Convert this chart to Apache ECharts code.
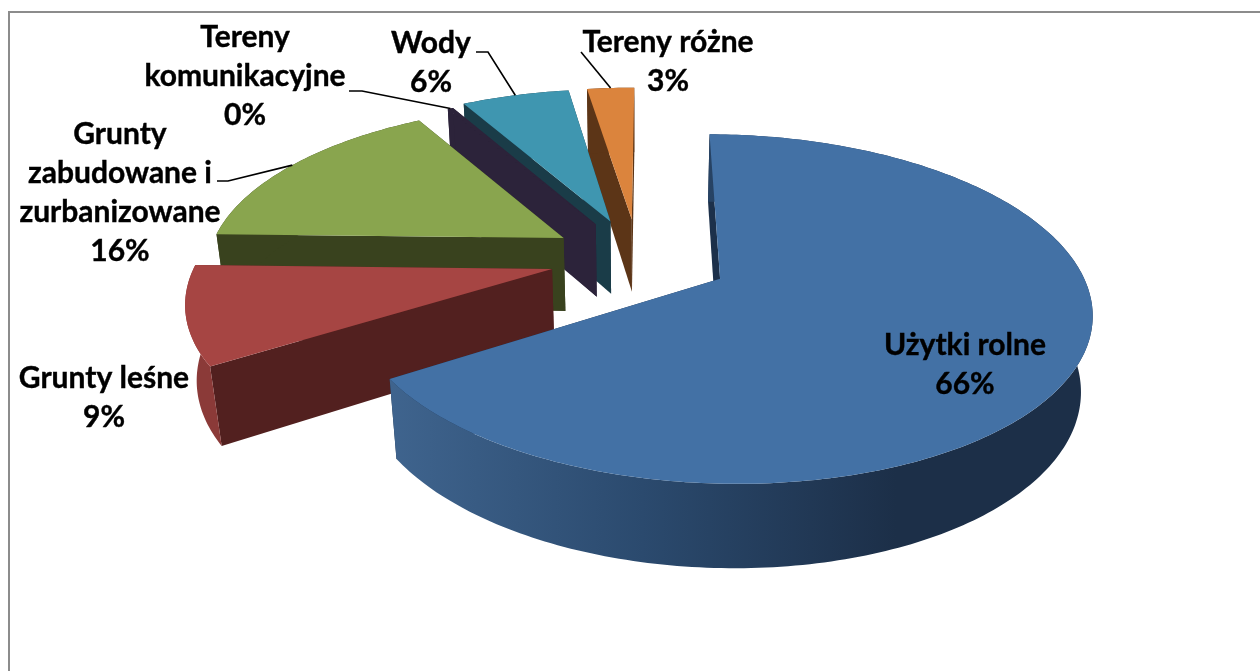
<!DOCTYPE html>
<html>
<head>
<meta charset="utf-8">
<title>Struktura użytkowania gruntów</title>
<script src="https://cdn.jsdelivr.net/npm/echarts@6/dist/echarts.min.js"></script>
<style>
  html, body { margin: 0; padding: 0; background: #fff; }
  #chart { width: 1260px; height: 671px; }
</style>
</head>
<body>
<div id="chart"></div>
<script>
// dane
const categories = ["Użytki rolne", "Grunty leśne", "Grunty\nzabudowane i\nzurbanizowane", "Tereny\nkomunikacyjne", "Wody", "Tereny różne"];
const values = [65.9, 9.4, 16.2, 0.3, 5.7, 2.5];

// kolory: wierzch, bok, ścianka
const topColors = ["#4371a5", "#a64543", "#89a54e", "#2c233a", "#3f96b0", "#db843d"];
const faceColors = ["#1c304a", "#52201f", "#39421e", "#2c233a", "#1a3c48", "#5c3517"];
const rimColors = ["#1c304a", "#8b3a38", "#39421e", "#2c233a", "#1a3c48", "#5c3517"];

// układ etykiet i linii odniesienia
const labelCenters = [[965, 365], [104, 398], [120, 193], [245, 76], [431, 63], [668, 62]];
const leaderElbows = [null, null, [[217, 181], [228, 181]], [[349, 91], [362, 91]], [[476, 52], [488, 52]], [[581, 52]]];

// rzut perspektywiczny kola
const view = { cx: 638, cy: 258, b: 360, a: 164, p: 0.172, q: 0.025, d: 76, startAngle: 0.3 };
const explode = [0.255, 0.245, 0.245, 0.245, 0.245, 0.245];
const radius = [0.99, 0.985, 0.99, 1, 1.02, 1.02];

const total = values.reduce((s, v) => s + v, 0);

function project(u, v, z) {
  const s = 1 / (1 - view.p * v + view.q * z);
  return [view.cx + view.b * u * s, view.cy + (view.a * v + view.d * z) * s];
}

function sliceAngles(i) {
  let a0 = view.startAngle;
  for (let k = 0; k < i; k++) a0 += values[k] / total * 360;
  return [a0, a0 + values[i] / total * 360];
}

function renderSlice(params, api) {
  const i = params.dataIndex;
  const [a0, a1] = sliceAngles(i);
  const mid = (a0 + a1) / 2 * Math.PI / 180;
  const ox = Math.sin(mid) * explode[i];
  const oy = -Math.cos(mid) * explode[i];
  const pt = (deg, z) => {
    const t = deg * Math.PI / 180;
    return project(ox + radius[i] * Math.sin(t), oy - radius[i] * Math.cos(t), z);
  };
  const apex = z => project(ox, oy, z);

  const arcTop = [], arcBottom = [];
  const steps = Math.max(2, Math.ceil(a1 - a0));
  for (let k = 0; k <= steps; k++) {
    const deg = a0 + (a1 - a0) * k / steps;
    arcTop.push(pt(deg, 0));
    arcBottom.push(pt(deg, 1));
  }

  const base = (values.length - i) * 10;
  const rimFill = i === 0
    ? new echarts.graphic.LinearGradient(0, 0, 0.72, 0, [
        { offset: 0, color: "#3f648e" },
        { offset: 0.5, color: "#2b4a6e" },
        { offset: 1, color: "#1c2f48" }
      ])
    : rimColors[i];
  const poly = (points, fill, z2) => ({
    type: "polygon",
    z2: base + z2,
    shape: { points },
    style: { fill }
  });

  return {
    type: "group",
    children: [
      poly([apex(0), pt(a1, 0), pt(a1, 1), apex(1)], faceColors[i], 1),
      poly([apex(0), pt(a0, 0), pt(a0, 1), apex(1)], faceColors[i], 2),
      poly(arcTop.concat(arcBottom.slice().reverse()), rimFill, 3),
      poly([apex(0)].concat(arcTop), topColors[i], 4)
    ]
  };
}

function renderLabel(params, api) {
  const i = params.dataIndex;
  const [a0, a1] = sliceAngles(i);
  const mid = (a0 + a1) / 2 * Math.PI / 180;
  const children = [{
    type: "text",
    z2: 200,
    style: {
      text: categories[i] + "\n" + Math.round(values[i] / total * 100) + "%",
      x: labelCenters[i][0],
      y: labelCenters[i][1],
      align: "center",
      verticalAlign: "middle",
      font: "700 30px Lato, sans-serif",
      lineHeight: 39,
      fill: "#000",
      stroke: "#000",
      lineWidth: 0.4
    }
  }];
  if (leaderElbows[i]) {
    const e = explode[i];
    const r = radius[i];
    const end = project(Math.sin(mid) * (r + e), -Math.cos(mid) * (r + e), 0);
    children.push({
      type: "polyline",
      z2: 190,
      shape: { points: leaderElbows[i].concat([end]) },
      style: { stroke: "#000", lineWidth: 1.6, fill: null }
    });
  }
  return { type: "group", children };
}

const myChart = echarts.init(document.getElementById("chart"), null, { renderer: "canvas" });
myChart.setOption({
  animation: false,
  backgroundColor: "#fff",
  graphic: [{
    type: "rect",
    silent: true,
    shape: { x: 9, y: 12, width: 1400, height: 800 },
    style: { fill: "none", stroke: "#8c8c8c", lineWidth: 2 }
  }],
  series: [
    { type: "custom", coordinateSystem: "none", renderItem: renderSlice, data: values, silent: true },
    { type: "custom", coordinateSystem: "none", renderItem: renderLabel, data: values, silent: true, z: 5 }
  ]
});
</script>
</body>
</html>
